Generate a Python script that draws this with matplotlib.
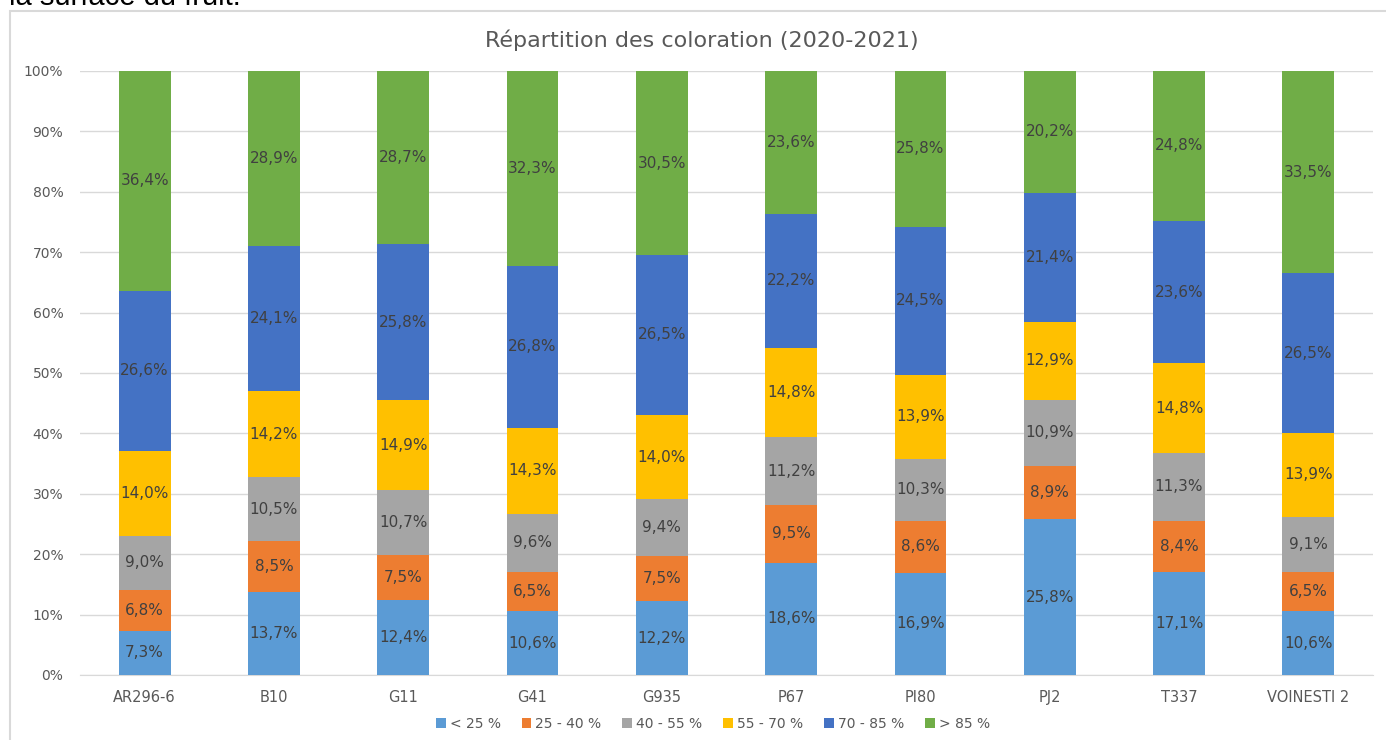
import numpy as np
import matplotlib
matplotlib.use("Agg")
import matplotlib.pyplot as plt
from matplotlib.patches import Rectangle

plt.rcParams['font.family'] = ['DejaVu Sans']

varietes = ['AR296-6', 'B10', 'G11', 'G41', 'G935', 'P67', 'PI80', 'PJ2', 'T337', 'VOINESTI 2']
classes = ['< 25 %', '25 - 40 %', '40 - 55 %', '55 - 70 %', '70 - 85 %', '> 85 %']
couleurs = ['#5B9BD5', '#ED7D31', '#A5A5A5', '#FFC000', '#4472C4', '#70AD47']

moins_25 = [7.3, 13.7, 12.4, 10.6, 12.2, 18.6, 16.9, 25.8, 17.1, 10.6]
de_25_40 = [6.8, 8.5, 7.5, 6.5, 7.5, 9.5, 8.6, 8.9, 8.4, 6.5]
de_40_55 = [9.0, 10.5, 10.7, 9.6, 9.4, 11.2, 10.3, 10.9, 11.3, 9.1]
de_55_70 = [14.0, 14.2, 14.9, 14.3, 14.0, 14.8, 13.9, 12.9, 14.8, 13.9]
de_70_85 = [26.6, 24.1, 25.8, 26.8, 26.5, 22.2, 24.5, 21.4, 23.6, 26.5]
plus_85 = [36.4, 28.9, 28.7, 32.3, 30.5, 23.6, 25.8, 20.2, 24.8, 33.5]

series = [moins_25, de_25_40, de_40_55, de_55_70, de_70_85, plus_85]

data = np.array(series)
parts = data / data.sum(axis=0) * 100  # 100% empilé comme dans Excel

fig = plt.figure(figsize=(13.86, 7.4), dpi=100)
W, H = 1386, 740

# cadre du graphique
fig.patches.append(Rectangle((10 / W, -0.01), 1.2, 1 - 11 / H + 0.01, transform=fig.transFigure,
                             fill=False, edgecolor='#D9D9D9', linewidth=1.5))
# texte du document, coupé en haut
fig.text(9 / W, 1 - 5 / H, 'la surface du fruit.', fontsize=21, color='black',
         family=['Liberation Sans', 'DejaVu Sans'], va='baseline', ha='left')

ax = fig.add_axes([80 / W, 1 - 675 / H, (1373 - 80) / W, (675 - 71) / H])
x = np.arange(len(varietes))
bas = np.zeros(len(varietes))
for vals, pct, col, lab in zip(series, parts, couleurs, classes):
    ax.bar(x, pct, bottom=bas, width=0.4, color=col, label=lab, zorder=3)
    for xi, b, p, v in zip(x, bas, pct, vals):
        ax.text(xi, b + p / 2, f'{v:.1f}%'.replace('.', ','), ha='center', va='center',
                fontsize=11, color='#404040', zorder=4)
    bas += pct

ax.set_xlim(-0.5, len(varietes) - 0.5)
ax.set_ylim(0, 100)
ax.set_yticks(np.arange(0, 101, 10))
ax.set_yticklabels([f'{v}%' for v in range(0, 101, 10)])
ax.set_xticks(x)
ax.set_xticklabels(varietes)
ax.tick_params(axis='both', length=0, labelsize=10, labelcolor='#595959')
ax.tick_params(axis='x', labelsize=10.5, pad=11)
ax.tick_params(axis='y', pad=12)
ax.grid(axis='y', color='#D9D9D9', linewidth=1, zorder=0)
for s in ['top', 'right', 'left']:
    ax.spines[s].set_visible(False)
ax.spines['bottom'].set_color('#D9D9D9')

fig.text(702 / W, 1 - 40 / H, 'Répartition des coloration (2020-2021)',
         ha='center', va='center', fontsize=16, color='#595959')

fig.legend(loc='center', bbox_to_anchor=(713 / W, 1 - 724 / H), ncol=6, frameon=False,
           fontsize=10, labelcolor='#595959', handlelength=0.7, handleheight=0.7,
           handletextpad=0.3, columnspacing=1.5)

fig.savefig('out.png', dpi=100)
